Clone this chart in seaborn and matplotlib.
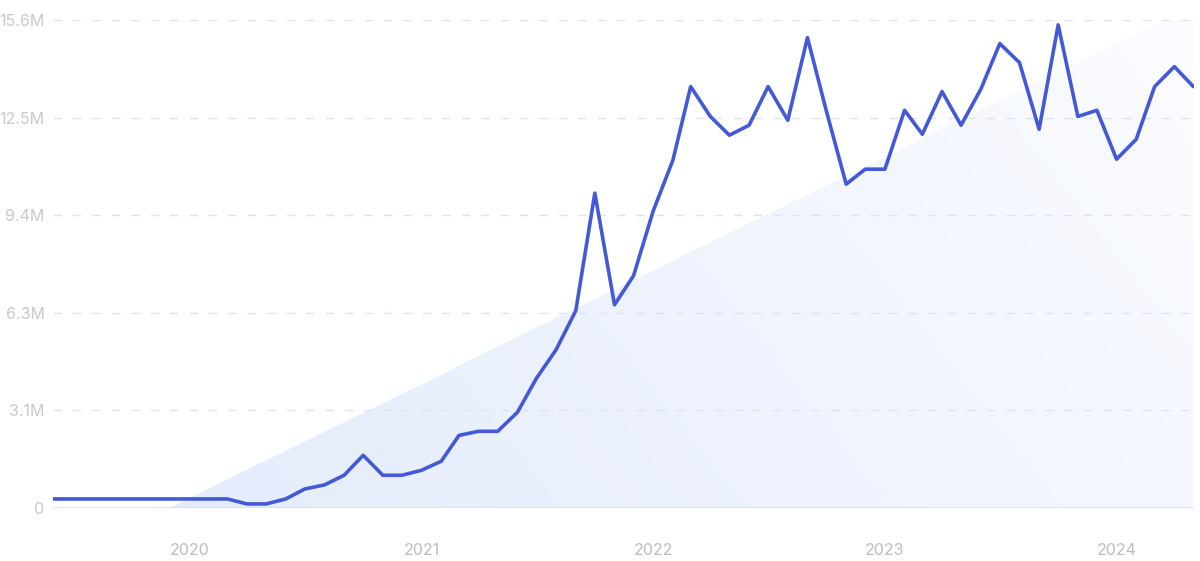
import numpy as np
import pandas as pd
import seaborn as sns
import matplotlib.pyplot as plt
import matplotlib.dates as mdates
from matplotlib.colors import LinearSegmentedColormap

''' DATA '''
months = pd.date_range('2019-06-01', periods=60, freq='MS')
volume_m = [
    0.29, 0.29, 0.29, 0.29, 0.29, 0.29, 0.29, 0.29, 0.29, 0.29,
    0.13, 0.13, 0.29, 0.61, 0.74, 1.05, 1.69, 1.05, 1.05, 1.21,
    1.50, 2.33, 2.46, 2.46, 3.07, 4.16, 5.08, 6.33, 10.10, 6.52,
    7.45, 9.53, 11.16, 13.52, 12.56, 11.96, 12.28, 13.52, 12.44, 15.09,
    12.72, 10.39, 10.87, 10.87, 12.76, 11.99, 13.36, 12.28, 13.43, 14.90,
    14.29, 12.15, 15.50, 12.56, 12.76, 11.19, 11.83, 13.52, 14.16, 13.52,
]
y_max = 15.65
y_tick_labels = ['0', '3.1M', '6.3M', '9.4M', '12.5M', '15.6M']
x_tick_years = [2020, 2021, 2022, 2023, 2024]

df = pd.DataFrame({'month': months, 'volume': volume_m})

# linear trend behind the line, clipped to the plotting range
xs = np.arange(len(df))
slope, icpt = np.polyfit(xs, df['volume'], 1)
trend = np.clip(slope * xs + icpt, 0, y_max)

''' PLOT '''
sns.set_theme(style='white')
plt.rcParams['font.family'] = ['Inter', 'DejaVu Sans']

fig = plt.figure(figsize=(12, 5.61), dpi=100)
ax = fig.add_axes([0.044, 0.0945, 0.951, 0.8695])

xnum = mdates.date2num(df['month'])
poly = ax.fill_between(df['month'], 0, trend, color='none', lw=0)

grad_cmap = LinearSegmentedColormap.from_list('g', ['#e2eafb', '#eef3fd', '#fbfcff'])
gx, gy = np.meshgrid(np.linspace(0, 1, 200), np.linspace(1, 0, 100))
grad = 0.75 * gx + 0.25 * gy
img = ax.imshow(grad, cmap=grad_cmap, aspect='auto', zorder=0,
                extent=[xnum[0], xnum[-1], 0, y_max], origin='upper')
img.set_clip_path(poly.get_paths()[0], transform=ax.transData)

sns.lineplot(data=df, x='month', y='volume', ax=ax, color='#4359d6',
             linewidth=2.6, zorder=3)

yticks = np.linspace(0, y_max, 6)
for yt in yticks[1:]:
    ax.axhline(yt, color='#dce3f4', lw=1, ls=(0, (6, 8)), zorder=1)
ax.axhline(0, color='#d8e1f6', lw=1.2, zorder=2)

ax.set_xlim(xnum[0] - 1, xnum[-1] + 1)
ax.set_ylim(0, y_max)
ax.set_yticks(yticks)
ax.set_yticklabels(y_tick_labels)
ax.set_xticks([pd.Timestamp(f'{y}-01-01') for y in x_tick_years])
ax.set_xticklabels([str(y) for y in x_tick_years])
ax.tick_params(axis='y', colors='#c9c9c9', labelsize=11.5, length=0, pad=6)
ax.tick_params(axis='x', colors='#bdbdbd', labelsize=11.5, length=0, pad=25)
ax.set_xlabel('')
ax.set_ylabel('')
for s in ax.spines.values():
    s.set_visible(False)

fig.savefig('out.png', dpi=100)
